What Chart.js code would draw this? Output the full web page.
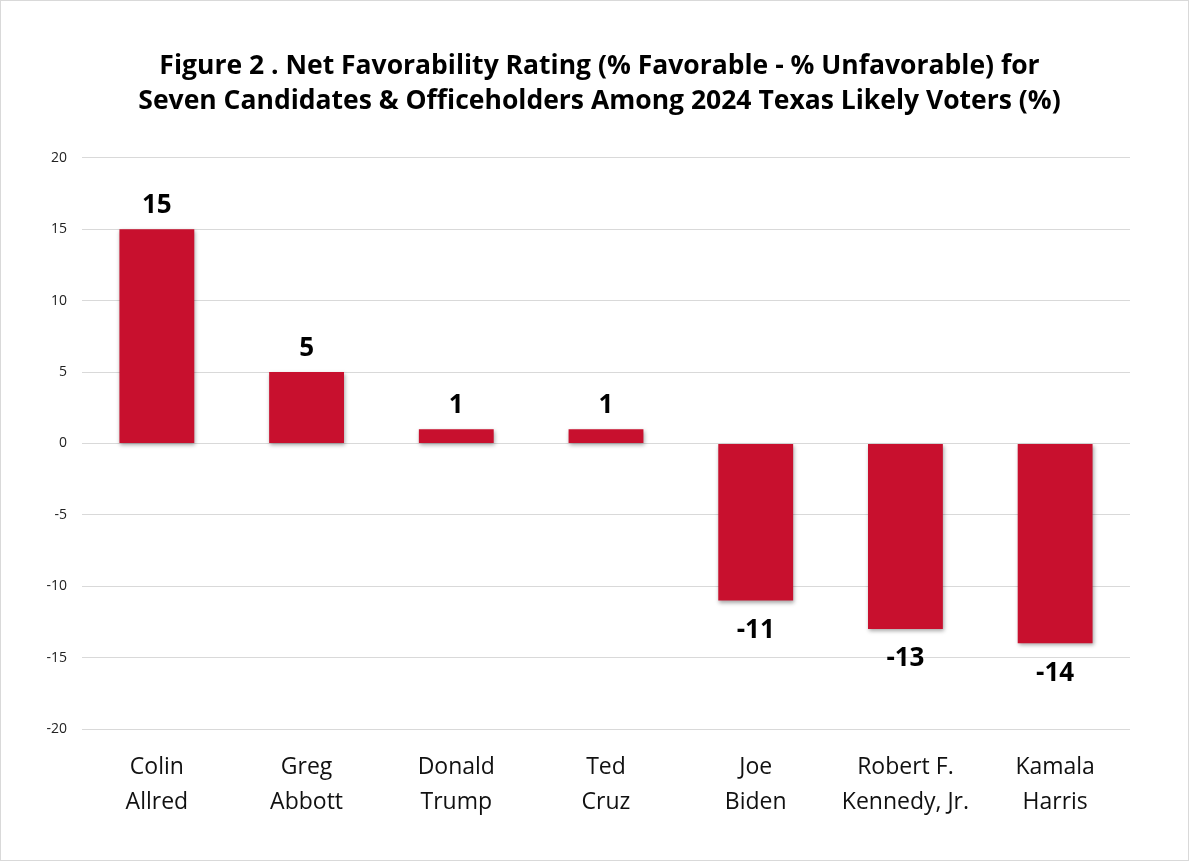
<!DOCTYPE html>
<html>
<head>
<meta charset="utf-8">
<script src="https://cdn.jsdelivr.net/npm/chart.js@4/dist/chart.umd.min.js"></script>
<style>
	html, body { margin: 0; padding: 0; background: #fff; }
	#wrap { position: relative; width: 1189px; height: 861px; box-sizing: border-box; border: 1px solid #d9d9d9; }
</style>
</head>
<body>
<div id="wrap"><canvas id="barChart"></canvas></div>
<script>
const names = [
	["Colin", "Allred"],
	["Greg", "Abbott"],
	["Donald", "Trump"],
	["Ted", "Cruz"],
	["Joe", "Biden"],
	["Robert F.", "Kennedy, Jr."],
	["Kamala", "Harris"],
];
const netFavorability = [15, 5, 1, 1, -11, -13, -14];
const titleLines = [
	"Figure 2 . Net Favorability Rating (% Favorable - % Unfavorable) for",
	"Seven Candidates & Officeholders Among 2024 Texas Likely Voters (%)",
];
const yMin = -20;
const yMax = 20;
const yStep = 5;

const FONT = "'Open Sans', 'Noto Sans', sans-serif";

// soft drop shadow under bars, like the office chart
const barShadow = {
	id: "barShadow",
	beforeDatasetsDraw(chart) {
		const c = chart.ctx;
		c.save();
		c.shadowColor = "rgba(0,0,0,0.35)";
		c.shadowBlur = 4;
		c.shadowOffsetX = 1;
		c.shadowOffsetY = 2;
	},
	afterDatasetsDraw(chart) {
		chart.ctx.restore();
	},
};

// bold value labels above / below each bar
const valueLabels = {
	id: "valueLabels",
	afterDraw(chart) {
		const c = chart.ctx;
		const meta = chart.getDatasetMeta(0);
		c.save();
		c.font = "bold 26px " + FONT;
		c.fillStyle = "#000";
		c.textAlign = "center";
		c.textBaseline = "middle";
		meta.data.forEach((bar, i) => {
			const v = netFavorability[i];
			const y = v >= 0 ? bar.y - 24 : bar.y + 30;
			c.fillText(String(v), bar.x, y);
		});
		c.restore();
	},
};

const ctx = document.getElementById("barChart");
new Chart(ctx, {
	type: "bar",
	data: {
		labels: names,
		datasets: [
			{
				label: "Net favorability",
				data: netFavorability,
				backgroundColor: "#c8102e",
				borderWidth: 0,
				categoryPercentage: 1.0,
				barPercentage: 0.5,
			},
		],
	},
	options: {
		responsive: true,
		maintainAspectRatio: false,
		animation: false,
		devicePixelRatio: 1,
		layout: { padding: { left: 10, right: 0, top: 0, bottom: 0 } },
		plugins: {
			legend: { display: false },
			tooltip: { enabled: false },
			title: {
				display: true,
				text: titleLines,
				color: "#000",
				font: { family: FONT, size: 26.5, weight: "bold", lineHeight: 1.32 },
				padding: { top: 48, bottom: 39 },
			},
		},
		scales: {
			x: {
				grid: { display: false, drawTicks: false },
				border: { display: false },
				ticks: {
					color: "#111",
					font: { family: FONT, size: 23, lineHeight: 1.52 },
					padding: 21,
					maxRotation: 0,
					autoSkip: false,
				},
				afterFit(scale) { scale.height = 131; },
			},
			y: {
				min: yMin,
				max: yMax,
				grid: { color: "#d9d9d9", lineWidth: 1, drawTicks: false },
				border: { display: false },
				ticks: {
					stepSize: yStep,
					color: "#222",
					font: { family: FONT, size: 14 },
					padding: 15,
				},
				afterFit(scale) { scale.width = 71; },
			},
			// empty right-hand spacer so the title stays centred on the page
			spacer: {
				position: "right",
				min: yMin,
				max: yMax,
				grid: { display: false, drawTicks: false },
				border: { display: false },
				ticks: { display: false },
				afterFit(scale) { scale.width = 58; },
			},
		},
	},
	plugins: [barShadow, valueLabels],
});
</script>
</body>
</html>
